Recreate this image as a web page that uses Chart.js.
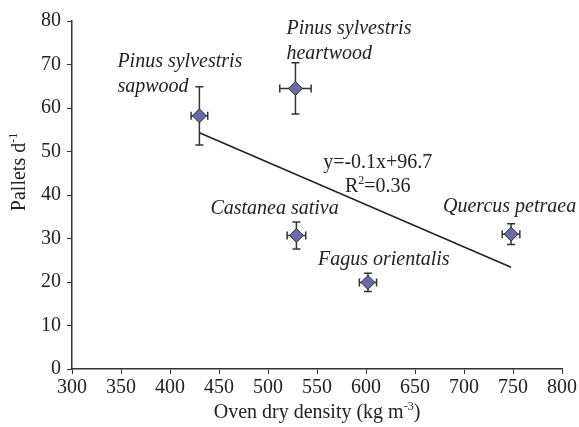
<!DOCTYPE html>
<html>
<head>
<meta charset="utf-8">
<script src="https://cdn.jsdelivr.net/npm/chart.js@4.4.1/dist/chart.umd.min.js"></script>
<style>
  body { margin: 0; background: #fff; }
  canvas { display: block; }
</style>
</head>
<body>
<canvas id="myChart" width="579" height="427"></canvas>
<script>
// values
const species = [
  ['Pinus sylvestris', 'sapwood'],
  ['Pinus sylvestris', 'heartwood'],
  ['Castanea sativa'],
  ['Fagus orientalis'],
  ['Quercus petraea']
];
const density = [430, 528, 529, 602, 748];
const densityErr = [8.5, 16, 9.5, 8.8, 9];
const pallets = [58.2, 64.5, 30.7, 19.9, 31.0];
const palletsErr = [6.7, 5.9, 3.1, 2.1, 2.4];
const trendX = [430, 748];
const trendY = [54.3, 23.4];
const xTicks = [300, 800, 50];
const yTicks = [0, 80, 10];
const equation = ['y=-0.1x+96.7', 'R', '2', '=0.36'];

// label placement (pixels, relative to the point)
const labelOffsets = [[-82, -54], [-9, -60], [-86, -27], [-50, -23], [-68, -27]];
const eqPos = { x: 612, y: 47.3, y2: 41.8 };

const FONT = '"Liberation Serif", "DejaVu Serif", serif';
const ink = '#222';

const points = density.map((d, i) => ({ x: d, y: pallets[i] }));
const trend = trendX.map((d, i) => ({ x: d, y: trendY[i] }));

function drawParts(c, parts, x, y, size) {
  // parts: [text, isSup]
  let w = 0;
  parts.forEach(p => {
    c.font = (p[1] ? size * 0.6 : size) + 'px ' + FONT;
    w += c.measureText(p[0]).width;
  });
  let cx = x - w / 2;
  c.textAlign = 'left';
  c.textBaseline = 'middle';
  parts.forEach(p => {
    c.font = (p[1] ? size * 0.6 : size) + 'px ' + FONT;
    c.fillText(p[0], cx, p[1] ? y - size * 0.3 : y);
    cx += c.measureText(p[0]).width;
  });
}

const errorBars = {
  id: 'errorBars',
  beforeDatasetsDraw(chart) {
    const c = chart.ctx, xs = chart.scales.x, ys = chart.scales.y;
    c.save();
    c.strokeStyle = '#333';
    c.lineWidth = 1.5;
    density.forEach((d, i) => {
      const px = xs.getPixelForValue(d), py = ys.getPixelForValue(pallets[i]);
      const x1 = xs.getPixelForValue(d - densityErr[i]), x2 = xs.getPixelForValue(d + densityErr[i]);
      const y1 = ys.getPixelForValue(pallets[i] + palletsErr[i]), y2 = ys.getPixelForValue(pallets[i] - palletsErr[i]);
      c.beginPath();
      c.moveTo(x1, py); c.lineTo(x2, py);
      c.moveTo(x1, py - 4); c.lineTo(x1, py + 4);
      c.moveTo(x2, py - 4); c.lineTo(x2, py + 4);
      c.moveTo(px, y1); c.lineTo(px, y2);
      c.moveTo(px - 4, y1); c.lineTo(px + 4, y1);
      c.moveTo(px - 4, y2); c.lineTo(px + 4, y2);
      c.stroke();
    });
    c.restore();
  }
};

const annotations = {
  id: 'annotations',
  afterDraw(chart) {
    const c = chart.ctx, xs = chart.scales.x, ys = chart.scales.y;
    c.save();
    c.fillStyle = ink;
    // point labels
    c.font = 'italic 20px ' + FONT;
    c.textAlign = 'left';
    c.textBaseline = 'middle';
    species.forEach((lines, i) => {
      const px = xs.getPixelForValue(density[i]) + labelOffsets[i][0];
      const py = ys.getPixelForValue(pallets[i]) + labelOffsets[i][1];
      lines.forEach((t, k) => c.fillText(t, px, py + k * 25));
    });
    // equation
    const ex = xs.getPixelForValue(eqPos.x);
    drawParts(c, [[equation[0], false]], ex, ys.getPixelForValue(eqPos.y), 20);
    drawParts(c, [[equation[1], false], [equation[2], true], [equation[3], false]], ex, ys.getPixelForValue(eqPos.y2), 20);
    // axis titles
    drawParts(c, [['Oven dry density (kg m', false], ['-3', true], [')', false]],
      (chart.chartArea.left + chart.chartArea.right) / 2, 413, 20);
    c.translate(20, 172);
    c.rotate(-Math.PI / 2);
    drawParts(c, [['Pallets d', false], ['-1', true]], 0, 0, 20);
    c.restore();
  }
};

const ctx = document.getElementById('myChart').getContext('2d');

const myChart = new Chart(ctx, {
  type: 'scatter',
  data: {
    datasets: [
      {
        data: points,
        pointStyle: 'rectRot',
        pointRadius: 7,
        backgroundColor: '#6a6aa8',
        borderColor: '#2a2a3a',
        borderWidth: 1
      },
      {
        type: 'line',
        data: trend,
        borderColor: ink,
        borderWidth: 1.5,
        pointRadius: 0,
        fill: false
      }
    ]
  },
  options: {
    responsive: false,
    animation: false,
    layout: { padding: { top: 21, right: 16, left: 0, bottom: 0 } },
    scales: {
      x: {
        type: 'linear',
        min: xTicks[0], max: xTicks[1],
        afterFit: s => { s.height = 58; },
        ticks: { stepSize: xTicks[2], color: ink, padding: 2, font: { family: FONT, size: 20 } },
        grid: { drawOnChartArea: false, tickLength: 5, color: '#333' },
        border: { color: '#333', width: 1.5 }
      },
      y: {
        min: yTicks[0], max: yTicks[1],
        afterFit: s => { s.width = 72; },
        ticks: { stepSize: yTicks[2], color: ink, padding: 6, font: { family: FONT, size: 20 } },
        grid: { drawOnChartArea: false, tickLength: 5, color: '#333' },
        border: { color: '#333', width: 1.5 }
      }
    },
    plugins: {
      legend: { display: false },
      tooltip: { enabled: false }
    }
  },
  plugins: [errorBars, annotations]
});
</script>
</body>
</html>
